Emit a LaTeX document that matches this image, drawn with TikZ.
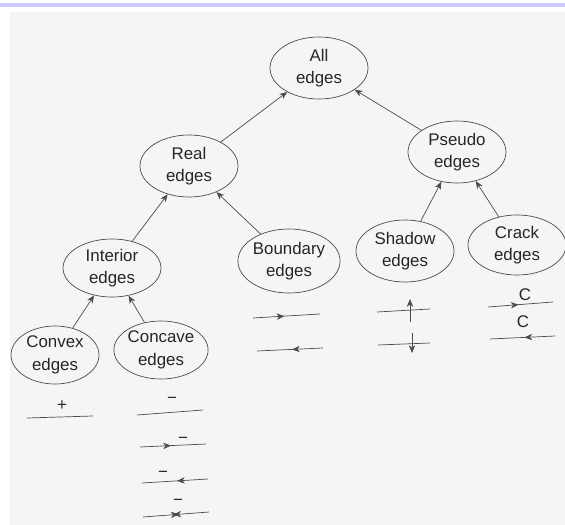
\documentclass[tikz,border=0pt]{standalone}
\usepackage{fontspec}
\setmainfont{Liberation Sans}
\usetikzlibrary{shapes.geometric, arrows.meta, decorations.markings}

\begin{document}
\begin{tikzpicture}[x=0.25mm, y=-0.25mm,
  every node/.style={font=\fontsize{12}{16}\selectfont, text=black!85},
  edgeset/.style={ellipse, draw=black!70, line width=0.5pt, align=center, inner sep=0pt,
    minimum width=24.5mm, minimum height=15.5mm},
  smallset/.style={edgeset, minimum width=22mm, minimum height=14.5mm},
  tip/.tip={Stealth[length=5.5pt, width=4.5pt, inset=1.6pt]},
  link/.style={-tip, draw=black!70, line width=0.5pt},
  mline/.style={draw=black!70, line width=0.5pt},
  fwd/.style={mline, postaction={decorate, decoration={markings,
    mark=at position 0.47 with {\arrow{tip}}}}},
  bwd/.style={mline, postaction={decorate, decoration={markings,
    mark=at position 0.53 with {\arrowreversed{tip}}}}},
  meet/.style={mline, postaction={decorate, decoration={markings,
    mark=at position 0.54 with {\arrow{tip}},
    mark=at position 0.46 with {\arrowreversed{tip}}}}}
]
\useasboundingbox (0,0) rectangle (565,525);
\fill[white] (0,0) rectangle (565,525);
\fill[blue!20] (0,3) rectangle (565,7);
\fill[black!4] (10,12) rectangle (565,525);

\node[edgeset] (all) at (319,68) {All\\edges};
\node[edgeset] (real) at (189,166) {Real\\edges};
\node[edgeset] (pseudo) at (457,152) {Pseudo\\edges};
\node[edgeset, minimum height=14.5mm] (interior) at (112,268) {Interior\\edges};
\node[edgeset, minimum height=16mm] (boundary) at (289,261) {Boundary\\edges};
\node[edgeset] (shadow) at (405,251) {Shadow\\edges};
\node[edgeset, minimum height=15mm] (crack) at (517,245) {Crack\\edges};
\node[smallset] (convex) at (55,355) {Convex\\edges};
\node[smallset] (concave) at (161,350) {Concave\\edges};

\draw[link] (real) -- (all);
\draw[link] (pseudo) -- (all);
\draw[link] (interior) -- (real);
\draw[link] (boundary) -- (real);
\draw[link] (shadow) -- (pseudo);
\draw[link] (crack) -- (pseudo);
\draw[link] (convex) -- (interior);
\draw[link] (concave) -- (interior);

\node (plus) at (62,406) {+};
\draw[mline] (27,418) -- (93,416);

\node (minusa) at (172,400) {−};
\draw[mline] (137,415) -- (203,410);
\node (minusb) at (183,440) {−};
\draw[fwd] (140,447) -- (206,444);
\node (minusc) at (163,474) {−};
\draw[bwd] (142,483) -- (208,479);
\node (minusd) at (178,502) {−};
\draw[meet] (143,517) -- (209,512);

\draw[fwd] (253,318) -- (320,314);
\draw[bwd] (257,351) -- (323,348);

\draw[mline] (377,312) -- (430,309);
\draw[link] (410,322) -- (410,299);
\draw[mline] (378,345) -- (430,343);
\draw[link] (412,333) -- (412,353);

\node (crackc) at (525,295) {C};
\draw[fwd] (488,307) -- (553,302);
\node (crackd) at (523,322) {C};
\draw[bwd] (490,339) -- (555,336);
\end{tikzpicture}
\end{document}
